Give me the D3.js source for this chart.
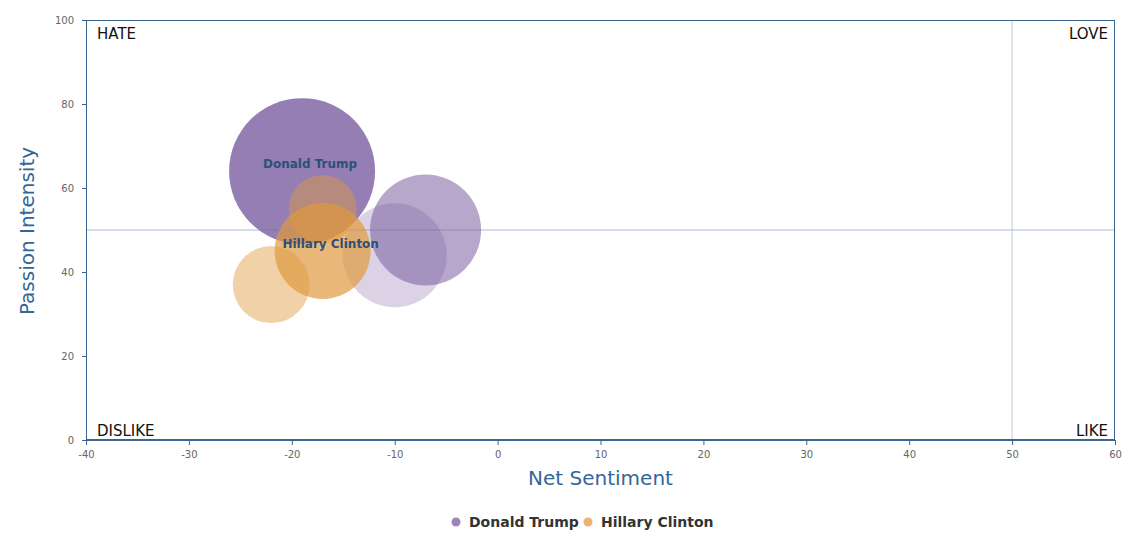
<!DOCTYPE html>
<html><head><meta charset="utf-8">
<script src="https://cdn.jsdelivr.net/npm/d3@7"></script>
<style>body{margin:0;background:#fff}svg{display:block;font-family:"DejaVu Sans",sans-serif}</style>
</head><body><svg id="c" width="1135" height="540"></svg>
<script>
const seriesNames = ["Donald Trump", "Hillary Clinton"];
const seriesColors = ["#7b5ea0", "#e09a3e"];
const trumpX = [-19, -7, -10];
const trumpY = [64, 50, 44];
const trumpSize = [73, 55.5, 52];
const trumpWeight = [0.8, 0.55, 0.27];
const clintonX = [-17, -22, -17];
const clintonY = [45, 37, 55];
const clintonSize = [48, 38.5, 34];
const clintonWeight = [0.7, 0.45, 0.45];
const xTicks = [-40, -30, -20, -10, 0, 10, 20, 30, 40, 50, 60];
const yTicks = [0, 20, 40, 60, 80, 100];
const quadrantLabels = ["HATE", "LOVE", "DISLIKE", "LIKE"];

const svg = d3.select("#c");
const L = 86, R = 1115, T = 20, B = 440;
const x = d3.scaleLinear().domain([-40, 60]).range([L, R]);
const y = d3.scaleLinear().domain([0, 100]).range([B, T]);
const rScale = d3.scaleLinear().domain([0, 73]).range([0, 73]);

// reference lines
svg.append("line").attr("x1", x(50)).attr("x2", x(50)).attr("y1", T).attr("y2", B).attr("stroke", "#c3ccd8").attr("stroke-width", 1);
svg.append("line").attr("x1", L).attr("x2", R).attr("y1", y(50)).attr("y2", y(50)).attr("stroke", "#aabfd8").attr("stroke-width", 1);

// frame
svg.append("rect").attr("x", L + 0.5).attr("y", T + 0.5).attr("width", R - L - 1).attr("height", B - T - 1)
  .attr("fill", "none").attr("stroke", "#3a6590").attr("stroke-width", 1);

// axes
const fmt = d => String(d);
const xa = svg.append("g").attr("transform", `translate(0,${B})`)
  .call(d3.axisBottom(x).tickValues(xTicks).tickFormat(fmt).tickSize(5).tickPadding(6));
const ya = svg.append("g").attr("transform", `translate(${L},0)`)
  .call(d3.axisLeft(y).tickValues(yTicks).tickFormat(fmt).tickSize(4).tickPadding(8));
[xa, ya].forEach(g => {
  g.select(".domain").attr("stroke", "#3a6590");
  g.selectAll(".tick line").attr("stroke", "#3a6590");
  g.selectAll("text").attr("fill", "#666").style("font-size", "10px").style("font-family", "DejaVu Sans");
});

// bubbles
const data = [
  {s: 0, xs: trumpX, ys: trumpY, rs: trumpSize, ws: trumpWeight},
  {s: 1, xs: clintonX, ys: clintonY, rs: clintonSize, ws: clintonWeight}
];
data.forEach(d => {
  const pts = d.xs.map((v, i) => ({x: v, y: d.ys[i], r: d.rs[i], w: d.ws[i]}));
  svg.append("g").selectAll("circle").data(pts).join("circle")
    .attr("cx", p => x(p.x)).attr("cy", p => y(p.y)).attr("r", p => rScale(p.r))
    .attr("fill", seriesColors[d.s]).attr("fill-opacity", p => p.w);
});
data.forEach(d => {
  svg.append("text").attr("x", x(d.xs[0]) + 8).attr("y", y(d.ys[0]) - 3)
    .attr("text-anchor", "middle").attr("font-size", "12px").attr("font-weight", "bold")
    .attr("fill", "#2e4f78").text(seriesNames[d.s]);
});

// quadrant labels
const ql = [
  {t: quadrantLabels[0], x: L + 11, y: 39, a: "start"},
  {t: quadrantLabels[1], x: R - 7, y: 39, a: "end"},
  {t: quadrantLabels[2], x: L + 11, y: 436, a: "start"},
  {t: quadrantLabels[3], x: R - 7, y: 436, a: "end"}
];
svg.selectAll(".ql").data(ql).join("text").attr("x", d => d.x).attr("y", d => d.y)
  .attr("text-anchor", d => d.a).attr("font-size", "15px").attr("fill", "#111").text(d => d.t);

// axis titles
svg.append("text").attr("x", (L + R) / 2).attr("y", 485).attr("text-anchor", "middle")
  .attr("font-size", "20px").attr("fill", "#336699").text("Net Sentiment");
svg.append("text").attr("transform", `translate(34,${(T + B) / 2 + 1}) rotate(-90)`).attr("text-anchor", "middle")
  .attr("font-size", "20px").attr("fill", "#336699").text("Passion Intensity");

// legend
const leg = svg.append("g");
const legX = [456, 588];
seriesNames.forEach((n, i) => {
  leg.append("circle").attr("cx", legX[i]).attr("cy", 522).attr("r", 4.5).attr("fill", seriesColors[i]).attr("fill-opacity", 0.75);
  leg.append("text").attr("x", legX[i] + 13).attr("y", 527).attr("font-size", "14px").attr("font-weight", "bold")
    .attr("fill", "#333").text(n);
});
</script></body></html>
